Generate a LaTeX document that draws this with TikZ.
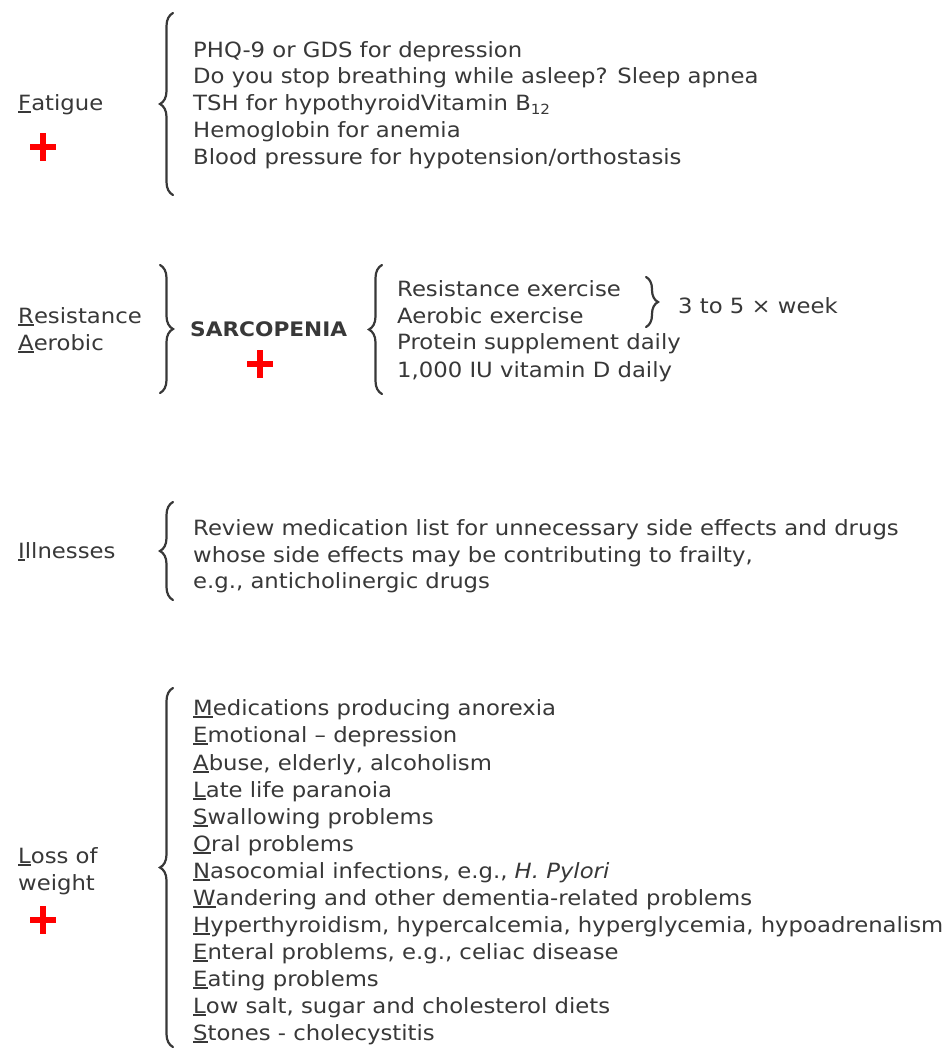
\documentclass[tikz,border=0pt]{standalone}
\usepackage{fontspec}
\setmainfont{DejaVu Sans}[FakeStretch=1.083]
\usetikzlibrary{decorations.pathreplacing}
\definecolor{txtc}{HTML}{383838}
\newcommand\myul[1]{\setbox0\hbox{#1}\rlap{\rule[-3pt]{\wd0}{1.7pt}}\box0}
\begin{document}
\begin{tikzpicture}[x=1pt,y=-1pt,
  txt/.style={anchor=base west, inner sep=0pt, text=txtc, font=\fontsize{21}{27}\selectfont},
  brc/.style={draw=txtc, line width=2.2pt, line cap=round, decorate, decoration={brace, amplitude=13pt}},
  redplus/.pic={\fill[red] (-13,-2.6) rectangle (13,2.6); \fill[red] (-2.6,-14) rectangle (2.6,14);}
]
\useasboundingbox[fill=white] (0,0) rectangle (948,1049);

% ---- Fatigue
\node[txt] (fat) at (18,110) {\myul{F}atigue};
\pic at (43,147) {redplus};
\draw[brc] (173,195) -- (173,13);
\node[txt] (f1) at (193,58) {PHQ-9 or GDS for depression};
\node[txt] (f2) at (193,84) {Do you stop breathing while asleep? Sleep apnea};
\node[txt] (f3) at (193,110) {TSH for hypothyroidVitamin B\raisebox{-4pt}{\fontsize{14}{14}\selectfont 12}};
\node[txt] (f4) at (193,137) {Hemoglobin for anemia};
\node[txt] (f5) at (193,164) {Blood pressure for hypotension/orthostasis};

% ---- Resistance / Aerobic
\node[txt] (res) at (18,323) {\myul{R}esistance};
\node[txt] (aer) at (18,350) {\myul{A}erobic};
\draw[brc] (160,265) -- (160,393);
\node[txt, font=\fontsize{20}{24}\selectfont\bfseries] (sarc) at (190,336) {SARCOPENIA};
\pic at (260,364) {redplus};
\draw[brc] (382,394) -- (382,265);
\node[txt] (r1) at (397,296) {Resistance exercise};
\node[txt] (r2) at (397,323) {Aerobic exercise};
\node[txt] (r3) at (397,349) {Protein supplement daily};
\node[txt] (r4) at (397,377) {1,000 IU vitamin D daily};
\draw[brc, decoration={brace, amplitude=12pt}] (646,277) -- (646,327);
\node[txt] (wk) at (678,313) {3 to 5 × week};

% ---- Illnesses
\node[txt] (ill) at (18,558) {\myul{I}llnesses};
\draw[brc] (173,600) -- (173,502);
\node[txt] (i1) at (193,535) {Review medication list for unnecessary side effects and drugs};
\node[txt] (i2) at (193,562) {whose side effects may be contributing to frailty,};
\node[txt] (i3) at (193,588) {e.g., anticholinergic drugs};

% ---- Loss of weight
\node[txt] (lw1) at (18,863) {\myul{L}oss of};
\node[txt] (lw2) at (18,890) {weight};
\pic at (43,920) {redplus};
\draw[brc] (173,1047) -- (173,688);
\node[txt] (m1) at (193,715) {\myul{M}edications producing anorexia};
\node[txt] (m2) at (193,742) {\myul{E}motional -- depression};
\node[txt] (m3) at (193,770) {\myul{A}buse, elderly, alcoholism};
\node[txt] (m4) at (193,797) {\myul{L}ate life paranoia};
\node[txt] (m5) at (193,824) {\myul{S}wallowing problems};
\node[txt] (m6) at (193,851) {\myul{O}ral problems};
\node[txt] (m7) at (193,878) {\myul{N}asocomial infections, e.g., \textit{H. Pylori}};
\node[txt] (m8) at (193,905) {\myul{W}andering and other dementia-related problems};
\node[txt] (m9) at (193,932) {\myul{H}yperthyroidism, hypercalcemia, hyperglycemia, hypoadrenalism};
\node[txt] (m10) at (193,959) {\myul{E}nteral problems, e.g., celiac disease};
\node[txt] (m11) at (193,986) {\myul{E}ating problems};
\node[txt] (m12) at (193,1013) {\myul{L}ow salt, sugar and cholesterol diets};
\node[txt] (m13) at (193,1040) {\myul{S}tones - cholecystitis};
\end{tikzpicture}
\end{document}
